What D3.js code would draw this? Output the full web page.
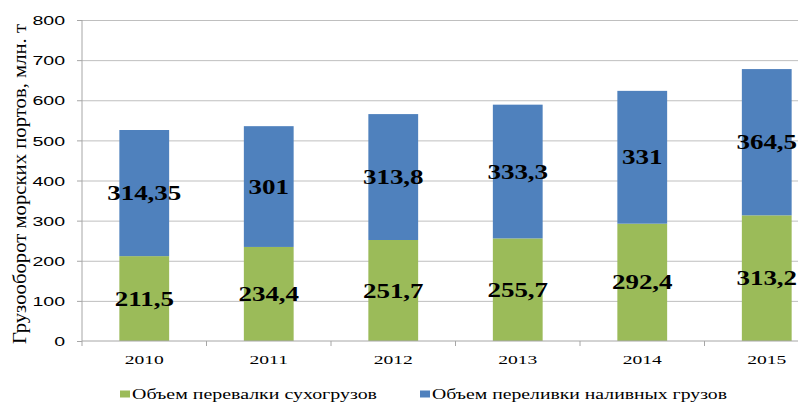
<!DOCTYPE html>
<html>
<head>
<meta charset="utf-8">
<script src="https://cdn.jsdelivr.net/npm/d3@7"></script>
<style>
  body { margin: 0; background: #fff; }
  svg { display: block; font-family: "Liberation Serif", "Times New Roman", serif; }
  .axis path, .axis line { stroke: #a6a6a6; }
  .grid line { stroke: #bfbfbf; }
  .grid path { display: none; }
</style>
</head>
<body>
<div id="chart"></div>
<script>
var years = ["2010", "2011", "2012", "2013", "2014", "2015"];
var dryCargo = [211.5, 234.4, 251.7, 255.7, 292.4, 313.2];
var liquidCargo = [314.35, 301, 313.8, 333.3, 331, 364.5];
var dryLabels = ["211,5", "234,4", "251,7", "255,7", "292,4", "313,2"];
var liquidLabels = ["314,35", "301", "313,8", "333,3", "331", "364,5"];
var seriesNames = ["Объем перевалки сухогрузов", "Объем переливки наливных грузов"];
var yTicks = [0, 100, 200, 300, 400, 500, 600, 700, 800];

var width = 798;
var height = 403;
var margins = { top: 20, left: 82, bottom: 62 };
var step = 124.5;

// the source picture is stretched sideways, so text gets a horizontal scale
var axisStretch = 1.45;
var valueStretch = 1.35;

var colors = ["#9bbb59", "#4f81bd"];

var svg = d3.select("#chart")
  .append("svg")
  .attr("width", width)
  .attr("height", height);

// x range runs past the right edge, the original is clipped there
var xScale = d3.scaleBand()
  .domain(years)
  .range([margins.left, margins.left + step * years.length])
  .paddingInner(0.6)
  .paddingOuter(0.3);

var yScale = d3.scaleLinear()
  .domain([0, 800])
  .range([height - margins.bottom, margins.top]);

// grid
svg.append("g")
  .attr("class", "grid")
  .attr("transform", "translate(" + margins.left + ",0)")
  .call(d3.axisLeft(yScale).tickValues(yTicks.slice(1)).tickSize(-(width - margins.left)).tickFormat(""));

// stacked data
var rows = years.map(function (y, i) {
  return [
    { year: y, y0: 0, y1: dryCargo[i], label: dryLabels[i], s: 0 },
    { year: y, y0: dryCargo[i], y1: dryCargo[i] + liquidCargo[i], label: liquidLabels[i], s: 1 },
  ];
});
var segments = [].concat.apply([], rows);

svg.append("g")
  .selectAll("rect")
  .data(segments)
  .enter()
  .append("rect")
  .attr("x", function (d) { return xScale(d.year); })
  .attr("width", xScale.bandwidth())
  .attr("y", function (d) { return yScale(d.y1); })
  .attr("height", function (d) { return yScale(d.y0) - yScale(d.y1); })
  .attr("fill", function (d) { return colors[d.s]; });

// axes
var yAxis = svg.append("g")
  .attr("class", "axis y")
  .attr("transform", "translate(" + margins.left + ",0)")
  .call(d3.axisLeft(yScale).tickValues(yTicks).tickSize(5).tickFormat(function (d) { return d; }));
yAxis.selectAll("text")
  .style("font-size", "13.5px")
  .attr("fill", "#000")
  .attr("x", -17 / axisStretch)
  .attr("dy", "0.35em")
  .attr("transform", "scale(" + axisStretch + ",1)");
yAxis.select("path").attr("d", "M0," + yScale(800) + "V" + yScale(0));

var xAxisBottom = svg.append("g")
  .attr("class", "axis x")
  .attr("transform", "translate(0," + yScale(0) + ")");
xAxisBottom.append("line")
  .attr("x1", margins.left).attr("x2", width)
  .attr("y1", 0).attr("y2", 0);
xAxisBottom.selectAll(".tk")
  .data(years)
  .enter()
  .append("line")
  .attr("class", "tk")
  .attr("x1", function (d) { return xScale(d) - xScale.step() * xScale.paddingOuter(); })
  .attr("x2", function (d) { return xScale(d) - xScale.step() * xScale.paddingOuter(); })
  .attr("y1", 0).attr("y2", 5);
xAxisBottom.selectAll("text")
  .data(years)
  .enter()
  .append("text")
  .attr("transform", function (d) {
    return "translate(" + (xScale(d) + xScale.bandwidth() / 2) + ",23) scale(" + axisStretch + ",1)";
  })
  .attr("text-anchor", "middle")
  .style("font-size", "13.5px")
  .text(function (d) { return d; });

// value labels
svg.append("g")
  .selectAll("text")
  .data(segments)
  .enter()
  .append("text")
  .attr("transform", function (d) {
    return "translate(" + (xScale(d.year) + xScale.bandwidth() / 2) + "," + yScale((d.y0 + d.y1) / 2) + ") scale(" + valueStretch + ",1)";
  })
  .attr("dy", "0.35em")
  .attr("text-anchor", "middle")
  .style("font-size", "20px")
  .style("font-weight", "bold")
  .text(function (d) { return d.label; });

// y title
svg.append("text")
  .attr("transform", "translate(26,184) rotate(-90)")
  .attr("text-anchor", "middle")
  .attr("textLength", 320)
  .attr("lengthAdjust", "spacingAndGlyphs")
  .style("font-size", "19px")
  .text("Грузооборот морских портов, млн. т");

// legend
var legendX = [120, 420];
var legendLen = [245, 295];
var legend = svg.append("g")
  .selectAll("g")
  .data(seriesNames)
  .enter()
  .append("g")
  .attr("transform", function (d, i) { return "translate(" + legendX[i] + ",399)"; });
legend.append("rect")
  .attr("x", 0).attr("y", -8.5)
  .attr("width", 10).attr("height", 7)
  .attr("fill", function (d, i) { return colors[i]; });
legend.append("text")
  .attr("x", 12)
  .attr("textLength", function (d, i) { return legendLen[i]; })
  .attr("lengthAdjust", "spacingAndGlyphs")
  .style("font-size", "15px")
  .text(function (d) { return d; });
</script>
</body>
</html>
